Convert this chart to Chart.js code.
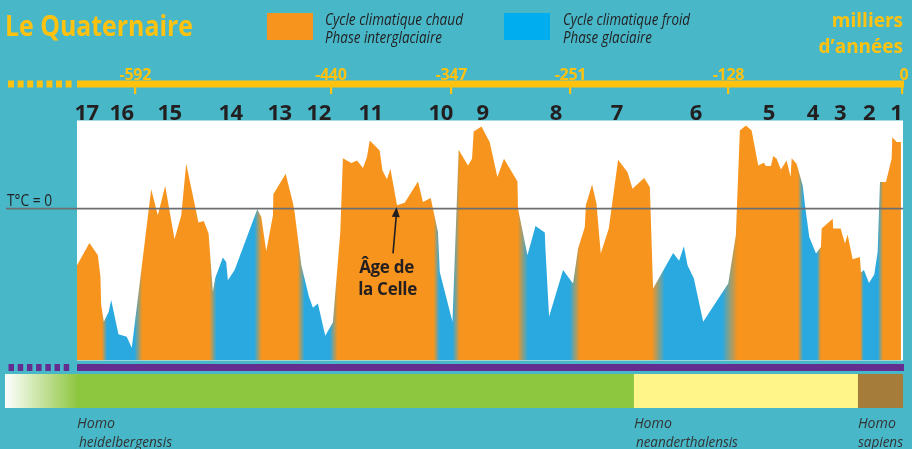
<!DOCTYPE html>
<html>
<head>
<meta charset="utf-8">
<title>Le Quaternaire</title>
<script src="https://cdn.jsdelivr.net/npm/chart.js@4.4.1/dist/chart.umd.min.js"></script>
<style>
  html, body { margin: 0; padding: 0; background: #48b8c9; overflow: hidden; }
  canvas { display: block; }
</style>
</head>
<body>
<canvas id="quaternaire" width="912" height="449"></canvas>
<script>
// Courbe de température du Quaternaire
// âge en milliers d'années, température relative (0 = T°C = 0)
const ages = [
  -637, -627.4, -620.9, -618.9, -618.3, -616.3, -612.5, -610.6, -605.0, -598.6,
  -594.7, -579.7, -574.6, -568.9, -561.7, -556.5, -552.7, -543.2, -539.1, -535.4,
  -532.1, -530.2, -524.4, -521.8, -520.5, -515.3, -497.8, -494.7, -490.9, -485.7,
  -485.4, -475.9, -470.3, -469.0, -463.8, -457.9, -454.8, -451.0, -445.3, -439.4,
  -433.7, -431.7, -425.2, -420.8, -416.2, -413.1, -411.0, -403.3, -401.2, -397.7,
  -395.0, -389.9, -384.0, -373.7, -369.9, -363.9, -358.3, -356.9, -347.1, -342.3,
  -335.1, -332.0, -330.7, -324.7, -318.3, -312.4, -307.3, -296.9, -296.5, -289.2,
  -283.0, -275.8, -275.4, -272.5, -261.7, -254.0, -250.1, -244.9, -244.1, -239.3,
  -235.9, -232.6, -226.4, -219.2, -211.9, -208.1, -199.1, -194.7, -192.2, -176.7,
  -172.1, -168.4, -165.6, -160.7, -153.5, -134.2, -128.3, -125.2, -120.5, -116.1,
  -111.0, -106.6, -105.1, -101.2, -99.4, -96.8, -93.5, -89.1, -86.0, -85.2,
  -81.4, -76.7, -74.9, -71.6, -66.4, -62.6, -62.0, -53.5, -53.1, -47.4,
  -44.0, -42.0, -38.1, -32.5, -31.7, -29.4, -25.5, -21.4, -18.8, -17.0,
  -12.4, -8.0, -7.5, -4.1, -0.8
];
const temps = [
  -3.73, -2.26, -3.07, -4.49, -6.35, -7.45, -6.79, -6.02, -8.28, -8.44,
  -9.16, 1.27, -0.44, 1.48, -2.02, -0.44, 2.96, -0.92, -0.81, -1.64,
  -5.48, -4.56, -3.22, -3.51, -4.71, -4.05, -0.05, -0.55, -2.81, -0.44,
  0.94, 2.30, 0.39, -0.22, -3.73, -5.81, -6.53, -6.24, -8.37, -7.49,
  -1.54, 3.32, 3.00, 3.17, 2.67, 3.39, 4.49, 3.83, 2.52, 1.93,
  2.63, 0.22, 0.39, 1.79, 0.43, 0.70, -1.54, -4.17, -7.45, 3.88,
  2.84, 3.29, 5.08, 5.41, 4.36, 2.08, 3.29, 1.79, 0.00, -3.07,
  -1.14, -1.58, -2.48, -7.12, -4.05, -4.93, -2.63, -1.21, 0.22, 1.58,
  0.33, -2.96, -1.31, 3.22, 2.40, 1.31, 2.01, 1.42, -5.26, -2.92,
  -3.44, -2.48, -3.73, -4.60, -7.45, -4.93, -1.75, 5.14, 5.47, 5.14,
  2.84, 3.02, 2.80, 2.80, 3.46, 3.29, 2.58, 3.17, 2.08, 3.32,
  2.96, 1.53, 0.22, -1.87, -2.96, -2.52, -1.31, -0.66, -1.31, -1.31,
  -2.30, -1.71, -3.33, -3.18, -4.20, -4.05, -4.89, -4.34, -2.85, 1.75,
  1.75, 3.29, 4.70, 4.38, 4.38
];

// stades isotopiques (du plus ancien au plus récent) et leurs limites
const stages = ['17', '16', '15', '14', '13', '12', '11', '10', '9', '8', '7', '6', '5', '4', '3', '2', '1'];
const stageCenters = [-629.7, -602.6, -565.6, -518.4, -480.6, -450.4, -410.3, -356.2, -323.8, -267.3, -220.2, -159.2, -102.8, -68.8, -47.9, -25.5, -4.5];
const stageBounds = [-615.8, -589.5, -532.0, -497.2, -464.0, -438.8, -359.3, -344.2, -292.8, -252.6, -188.1, -132.9, -78.4, -64.1, -30.9, -16.6];

// échelle du temps en haut
const tickText = ['-592', '-440', '-347', '-251', '-128', '0'];
const tickPos = [-592, -441, -348, -256, -134, 0];

// espèces humaines
const species = [['Homo', 'heidelbergensis'], ['Homo', 'neanderthalensis'], ['Homo', 'sapiens']];
const speciesStart = [-637, -207, -34];

const ORANGE = '#f7941d';
const BLUE = '#29a9e0';
const TEAL = '#48b8c9';
const YELLOW = '#ffc20e';
const DARK = '#231f20';
const blendKa = [4, 6, 5.5, 5.5, 5.5, 6, 4.5, 5.5, 8, 8, 10, 12, 4, 3, 2.5, 4];

function climateFill(context) {
    const chart = context.chart;
    const area = chart.chartArea;
    if (!area) return ORANGE;
    const xs = chart.scales.x;
    const g = chart.ctx.createLinearGradient(area.left, 0, area.right, 0);
    const w = area.right - area.left;
    const frac = v => Math.min(1, Math.max(0, (xs.getPixelForValue(v) - area.left) / w));
    g.addColorStop(0, ORANGE);
    stageBounds.forEach((b, i) => {
        const from = i % 2 === 0 ? ORANGE : BLUE;
        const to = i % 2 === 0 ? BLUE : ORANGE;
        g.addColorStop(frac(b - blendKa[i] / 2), from);
        g.addColorStop(frac(b + blendKa[i] / 2), to);
    });
    g.addColorStop(1, ORANGE);
    return g;
}

// texte ; si fitW est donné, le texte est resserré horizontalement à cette largeur
function txt(ctx, s, x, y, font, color, align, spacing, fitW) {
    ctx.save();
    ctx.font = font;
    ctx.fillStyle = color;
    ctx.textAlign = align || 'left';
    ctx.textBaseline = 'alphabetic';
    ctx.letterSpacing = spacing || '0px';
    if (fitW) {
        const m = ctx.measureText(s).width;
        ctx.translate(x, y);
        ctx.scale(Math.min(1.1, fitW / m), 1);
        ctx.fillText(s, 0, 0);
    } else {
        ctx.fillText(s, x, y);
    }
    ctx.restore();
}

const backgroundPlugin = {
    id: 'background',
    beforeDraw(chart) {
        const ctx = chart.ctx;
        const a = chart.chartArea;
        ctx.save();
        ctx.fillStyle = TEAL;
        ctx.fillRect(0, 0, chart.width, chart.height);
        ctx.fillStyle = '#ffffff';
        ctx.fillRect(a.left, a.top, a.right - a.left + 1, a.bottom - a.top);
        ctx.restore();
    }
};

const decorPlugin = {
    id: 'decor',
    afterDatasetsDraw(chart) {
        const ctx = chart.ctx;
        const a = chart.chartArea;
        const xs = chart.scales.x;
        const ys = chart.scales.y;
        const F = '"Open Sans", "DejaVu Sans", sans-serif';

        // ligne T°C = 0
        const y0 = ys.getPixelForValue(0);
        ctx.save();
        ctx.strokeStyle = '#6d6e71';
        ctx.lineWidth = 1.7;
        ctx.beginPath();
        ctx.moveTo(6, y0);
        ctx.lineTo(a.right + 1, y0);
        ctx.stroke();
        ctx.restore();
        txt(ctx, 'T°C = 0', 7, y0 - 2.5, '17px ' + F, DARK, 'left', '0px', 45);

        // Âge de la Celle
        const tipX = xs.getPixelForValue(-390.3), tipY = ys.getPixelForValue(0.1);
        const tailX = xs.getPixelForValue(-393), tailY = ys.getPixelForValue(-2.95);
        ctx.save();
        ctx.strokeStyle = DARK;
        ctx.fillStyle = DARK;
        ctx.lineWidth = 1.6;
        ctx.beginPath();
        ctx.moveTo(tailX, tailY);
        ctx.lineTo(tipX, tipY + 6);
        ctx.stroke();
        const ang = Math.atan2(tipY - tailY, tipX - tailX);
        ctx.beginPath();
        ctx.moveTo(tipX, tipY);
        ctx.lineTo(tipX - 10 * Math.cos(ang) + 4 * Math.sin(ang), tipY - 10 * Math.sin(ang) - 4 * Math.cos(ang));
        ctx.lineTo(tipX - 10 * Math.cos(ang) - 4 * Math.sin(ang), tipY - 10 * Math.sin(ang) + 4 * Math.cos(ang));
        ctx.closePath();
        ctx.fill();
        ctx.restore();
        const lx = xs.getPixelForValue(-398);
        txt(ctx, 'Âge de', lx, ys.getPixelForValue(-3.84) + 6, 'bold 17px ' + F, DARK, 'center', '-0.3px');
        txt(ctx, 'la Celle', lx + 1, ys.getPixelForValue(-5.3) + 6, 'bold 17px ' + F, DARK, 'center', '-0.3px');

        // numéros des stades
        stages.forEach((s, i) => {
            txt(ctx, s, xs.getPixelForValue(stageCenters[i]), a.top - 0.5, 'bold 22px ' + F, DARK, 'center', '-0.5px');
        });

        // axe du temps
        const axY = 84;
        ctx.save();
        ctx.fillStyle = YELLOW;
        ctx.fillRect(a.left, axY - 3.5, a.right - a.left + 2, 7);
        for (let i = 0; i < 7; i++) ctx.fillRect(8 + i * 9.6, axY - 3.5, 6, 7);
        tickPos.forEach(v => {
            const px = Math.round(xs.getPixelForValue(v));
            ctx.fillRect(px - 1, axY, 2.2, 10);
        });
        ctx.restore();
        tickPos.forEach((v, i) => {
            const px = xs.getPixelForValue(v);
            txt(ctx, tickText[i], i === tickPos.length - 1 ? px + 2 : px, 79.5, 'bold 16px ' + F, YELLOW, 'center', '-0.3px');
        });

        // titre et légende
        txt(ctx, 'Le Quaternaire', 5, 36, 'bold 29px ' + F, YELLOW, 'left', '0px', 188);
        ctx.save();
        ctx.fillStyle = ORANGE;
        ctx.fillRect(267, 13, 46, 27);
        ctx.fillStyle = '#00aeef';
        ctx.fillRect(504, 13, 46, 27);
        ctx.restore();
        const LF = 'italic 15.5px ' + F;
        txt(ctx, 'Cycle climatique chaud', 325, 24.5, LF, DARK, 'left', '0px', 138);
        txt(ctx, 'Phase interglaciaire', 325, 43, LF, DARK, 'left', '0px', 117);
        txt(ctx, 'Cycle climatique froid', 563, 24.5, LF, DARK, 'left', '0px', 127);
        txt(ctx, 'Phase glaciaire', 563, 43, LF, DARK, 'left', '0px', 89);
        txt(ctx, 'milliers', 903, 27, 'bold 19px ' + F, YELLOW, 'right', '0px');
        txt(ctx, 'd’années', 903, 53, 'bold 19px ' + F, YELLOW, 'right', '0px');

        // barre violette
        ctx.save();
        ctx.fillStyle = '#662d91';
        ctx.fillRect(a.left, 364, a.right - a.left + 2, 7);
        for (let i = 0; i < 7; i++) ctx.fillRect(8.5 + i * 9.2, 364, 5.5, 7);

        // bandes des espèces
        const bandTop = 374, bandH = 34;
        const xg = xs.getPixelForValue(speciesStart[0]);
        const fade = ctx.createLinearGradient(5, 0, xg + 1, 0);
        fade.addColorStop(0, '#ffffff');
        fade.addColorStop(1, '#8dc63f');
        ctx.fillStyle = fade;
        ctx.fillRect(5, bandTop, xg - 5 + 1, bandH);
        const bandColors = ['#8dc63f', '#fff589', '#a67c3a'];
        speciesStart.forEach((v, i) => {
            const x1 = xs.getPixelForValue(v);
            const x2 = i < speciesStart.length - 1 ? xs.getPixelForValue(speciesStart[i + 1]) : a.right + 1;
            ctx.fillStyle = bandColors[i];
            ctx.fillRect(x1, bandTop, x2 - x1, bandH);
        });
        ctx.restore();
        const nameW = [93, 102, 45];
        species.forEach((sp, i) => {
            const x1 = xs.getPixelForValue(speciesStart[i]);
            txt(ctx, sp[0], x1, 428, 'italic 14.5px ' + F, '#333333', 'left', '0px', 38);
            txt(ctx, sp[1], x1 + (i < 2 ? 2 : 0), 447, 'italic 14.5px ' + F, '#333333', 'left', '0px', nameW[i]);
        });
    }
};

new Chart(document.getElementById('quaternaire'), {
    type: 'line',
    data: {
        datasets: [{
            label: 'Température',
            data: ages.map((a, i) => ({ x: a, y: temps[i] })),
            fill: 'start',
            backgroundColor: climateFill,
            borderWidth: 0,
            pointRadius: 0,
            tension: 0
        }]
    },
    options: {
        responsive: false,
        animation: false,
        devicePixelRatio: 1,
        layout: { padding: { left: 77, right: 10, top: 120.5, bottom: 88.5 } },
        scales: {
            x: { type: 'linear', min: -637, max: 0, display: false },
            y: { min: -10, max: 5.8, display: false }
        },
        plugins: {
            legend: { display: false },
            tooltip: { enabled: false }
        }
    },
    plugins: [backgroundPlugin, decorPlugin]
});
</script>
</body>
</html>
